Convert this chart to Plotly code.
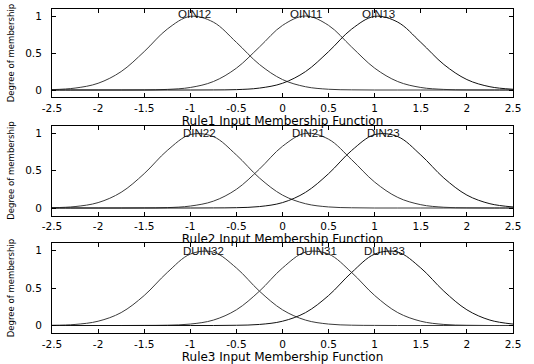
import plotly.graph_objects as go

# ---- data ----
x_grid = [-2.5, -2.25, -2.0, -1.75, -1.5, -1.25, -1.0, -0.75, -0.5, -0.25, 0.0,
          0.25, 0.5, 0.75, 1.0, 1.25, 1.5, 1.75, 2.0, 2.25, 2.5]

x_tick_vals = [-2.5, -2, -1.5, -1, -0.5, 0, 0.5, 1, 1.5, 2, 2.5]
x_tick_text = ["-2.5", "-2", "-1.5", "-1", "-0.5", "0", "0.5", "1", "1.5", "2", "2.5"]
y_tick_vals = [0, 0.5, 1]
y_tick_text = ["0", "0.5", "1"]

rule_titles = ["Rule1 Input Membership Function",
               "Rule2 Input Membership Function",
               "Rule3 Input Membership Function"]

# Rule 1
oin12 = [0.005, 0.026, 0.091, 0.249, 0.519, 0.823, 0.995, 0.917, 0.644, 0.345, 0.141,
         0.044, 0.010, 0.002, 0, 0, 0, 0, 0, 0, 0]
oin11 = [0, 0, 0, 0, 0.001, 0.008, 0.034, 0.114, 0.295, 0.581, 0.873,
         1.000, 0.873, 0.581, 0.295, 0.114, 0.034, 0.008, 0.001, 0, 0]
oin13 = [0, 0, 0, 0, 0, 0, 0, 0.001, 0.005, 0.026, 0.091,
         0.249, 0.519, 0.823, 0.995, 0.917, 0.644, 0.345, 0.141, 0.044, 0.010]
rule1_names = ["OIN12", "OIN11", "OIN13"]
rule1_peak_x = [-0.95, 0.26, 1.04]

# Rule 2
din22 = [0.004, 0.019, 0.072, 0.209, 0.458, 0.767, 0.979, 0.952, 0.707, 0.400, 0.172,
         0.057, 0.014, 0.003, 0, 0, 0, 0, 0, 0, 0]
din21 = [0, 0, 0, 0, 0.001, 0.005, 0.026, 0.091, 0.249, 0.519, 0.823,
         0.995, 0.917, 0.644, 0.345, 0.141, 0.044, 0.010, 0.002, 0, 0]
din23 = [0, 0, 0, 0, 0, 0, 0, 0.001, 0.004, 0.019, 0.072,
         0.209, 0.458, 0.767, 0.979, 0.952, 0.707, 0.400, 0.172, 0.057, 0.014]
rule2_names = ["DIN22", "DIN21", "DIN23"]
rule2_peak_x = [-0.9, 0.28, 1.1]

# Rule 3
duin32 = [0.003, 0.014, 0.057, 0.172, 0.400, 0.707, 0.952, 0.979, 0.767, 0.458, 0.209,
          0.072, 0.019, 0.004, 0.001, 0, 0, 0, 0, 0, 0]
duin31 = [0, 0, 0, 0, 0.001, 0.004, 0.019, 0.072, 0.209, 0.458, 0.767,
          0.979, 0.952, 0.707, 0.400, 0.172, 0.057, 0.014, 0.003, 0, 0]
duin33 = [0, 0, 0, 0, 0, 0, 0, 0, 0.003, 0.014, 0.057,
          0.172, 0.400, 0.707, 0.952, 0.979, 0.767, 0.458, 0.209, 0.072, 0.019]
rule3_names = ["DUIN32", "DUIN31", "DUIN33"]
rule3_peak_x = [-0.86, 0.37, 1.11]

panels = [
    (rule1_names, [oin12, oin11, oin13], rule1_peak_x),
    (rule2_names, [din22, din21, din23], rule2_peak_x),
    (rule3_names, [duin32, duin31, duin33], rule3_peak_x),
]

# ---- styling / layout ----
W, H = 534, 364
FONT = "Liberation Sans, Arial, sans-serif"
WIDE = "DejaVu Sans, Liberation Sans, sans-serif"
NARROW = "DejaVu Sans Condensed, Liberation Sans Narrow, Liberation Sans, sans-serif"
x_dom = [52 / W, 513 / W]
# (top_px, bottom_px) of each plot frame
frames_px = [(8.6, 97.4), (125.5, 215.5), (243.0, 333.0)]
label_y = [1.03, 1.0, 0.99]
line_colors = ["#3a3a3a", "#3a3a3a", "#111111"]

fig = go.Figure()
annotations = []
for i, (names, series, peaks) in enumerate(panels):
    xa = "x" if i == 0 else f"x{i+1}"
    ya = "y" if i == 0 else f"y{i+1}"
    for j, (name, ys) in enumerate(zip(names, series)):
        fig.add_trace(go.Scatter(
            x=x_grid, y=ys, mode="lines", name=name, xaxis=xa, yaxis=ya,
            line=dict(color=line_colors[j], width=1, shape="spline", smoothing=1.0),
            showlegend=False, hoverinfo="skip"))
        annotations.append(dict(
            x=peaks[j], y=label_y[i], xref=xa, yref=ya, text=name, showarrow=False,
            xanchor="center", yanchor="middle",
            font=dict(family=FONT, size=11.5, color="#111")))

    top, bot = frames_px[i]
    suffix = "" if i == 0 else str(i + 1)
    axis_common = dict(showline=True, linecolor="black", linewidth=1, mirror="allticks",
                       ticks="inside", ticklen=4, tickcolor="black", showgrid=False,
                       zeroline=False, automargin=False,
                       tickfont=dict(family=WIDE, size=10.5, color="black"))
    fig.layout["xaxis" + suffix] = dict(
        domain=x_dom, range=[-2.5, 2.5], anchor=ya,
        tickmode="array", tickvals=x_tick_vals, ticktext=x_tick_text,
        ticklabelstandoff=1,
        title=dict(text=rule_titles[i], standoff=0,
                   font=dict(family=WIDE, size=12, color="black")),
        **axis_common)
    fig.layout["yaxis" + suffix] = dict(
        domain=[1 - bot / H, 1 - top / H], range=[-0.1, 1.1], anchor=xa,
        tickmode="array", tickvals=y_tick_vals, ticktext=y_tick_text,
        ticklabelstandoff=7,
        title=dict(text="Degree of membership", standoff=8,
                   font=dict(family=NARROW, size=9.5, color="black")),
        **axis_common)

fig.update_layout(
    width=W, height=H, margin=dict(l=0, r=0, t=0, b=0, autoexpand=False),
    paper_bgcolor="white", plot_bgcolor="white",
    annotations=annotations, showlegend=False)

fig.write_html("out.html", config={"displayModeBar": False},
               post_script="document.body.style.margin='0';document.body.style.padding='0';")
